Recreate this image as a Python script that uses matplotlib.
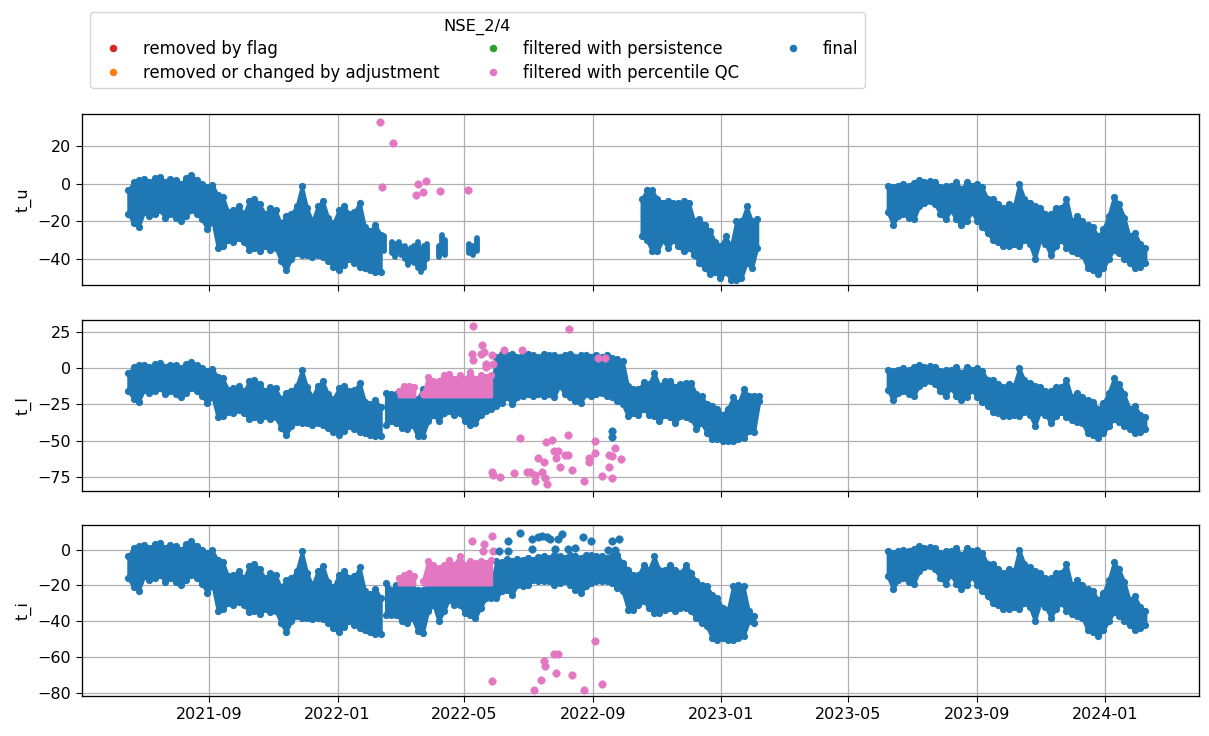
import matplotlib
matplotlib.use("Agg")
import matplotlib.pyplot as plt
import matplotlib.dates as mdates
from matplotlib.lines import Line2D
import pandas as pd
import numpy as np

# ---------------- data ----------------
STEP = "5D"
# common band 2021-06-16 .. 2022-02-11 (all three sensors)
A_start = "2021-06-16"
A_hi = [-3.5, 1, 2, 2.3, 1, 3, 3.5, 1, 2.5, 2, 0, 3, 4.5, 2, 0, -2, -0.5, -6, -7, -15,
        -14, -12, -16, -9, -8, -11, -16, -13, -14, -21, -17, -16, -12, -1, -13, -20, -12,
        -9, -18, -21, -14, -12, -16, -15, -10, -23, -25, -22, -27]
A_lo = [-16, -21, -23, -15, -17, -16, -14, -18, -16, -18, -20, -17, -14, -16, -19, -24, -20,
        -34, -33, -30, -31, -29, -31, -35, -34, -36, -33, -35, -34, -41, -46, -40, -37, -38,
        -38, -39, -38, -39, -41, -44, -46, -43, -40, -42, -44, -45, -46, -47, -47]

# common band 2023-06-08 .. 2024-02-11 (all three sensors)
C_start = "2023-06-08"
C_hi = [-1, -2, -1, 0, -1, 0.5, 2, 1, 1.5, 1, -2, -1, -1, 1, -3, 1, -1, 0, -2, -8,
        -8, -11, -13, -11, -12, 0, -8, -10, -12, -13, -16, -16, -13, -13, -8, -20, -17, -20,
        -22, -23, -28, -24, -17, -7, -11, -18, -28, -26, -32, -34]
C_lo = [-15, -22, -17, -16, -18, -19, -12, -10, -9, -11, -16, -19, -14, -19, -22, -20, -15,
        -20, -23, -26, -30, -31, -33, -33, -32, -33, -30, -32, -40, -30, -32, -38, -33, -30,
        -34, -36, -37, -38, -45, -46, -48, -45, -40, -35, -37, -40, -42, -45, -44, -42]

# t_u: winter 2022/23 band
tu_B_start = "2022-10-17"
tu_B_hi = [-8, -3.5, -3.5, -8, -10, -9, -10, -10, -9, -10, -20, -19, -22, -25, -31, -33, -28,
           -33, -20, -20, -12, -20, -19]
tu_B_lo = [-28, -30, -36, -36, -30, -34, -30, -33, -36, -34, -38, -42, -45, -48, -47, -50, -47,
           -51, -51, -50, -42, -45, -34]
# t_u: sparse data spring 2022
tu_stick_dates = ["2022-02-14", "2022-02-22", "2022-02-25", "2022-02-28", "2022-03-02",
                  "2022-03-06", "2022-03-09", "2022-03-12", "2022-03-15", "2022-03-18",
                  "2022-03-21", "2022-03-24", "2022-03-27", "2022-04-07", "2022-04-10",
                  "2022-04-13", "2022-05-06", "2022-05-10", "2022-05-14"]
tu_stick_hi = [-28, -31, -32, -31, -33, -33, -35, -34, -33, -31, -35, -33, -32, -33, -27, -30,
               -32, -33, -29]
tu_stick_lo = [-36, -37, -39, -36, -38, -40, -43, -41, -42, -45, -47, -45, -40, -39, -37, -38,
               -37, -38, -36]
tu_pct_dates = ["2022-02-10", "2022-02-23", "2022-02-12", "2022-03-18", "2022-03-17",
                "2022-03-23", "2022-03-26", "2022-04-08", "2022-05-05"]
tu_pct_vals = [33, 21.8, -2, 0, -6, -4.3, 1.6, -3.7, -3.2]

# t_l: band 2022-02-16 .. 2023-02-08
tl_M_start = "2022-02-16"
tl_M_hi = [-17, -18, -18, -19, -19, -20, -21, -14.4, -19, -19, -19, -19, -19, -19, -19, -19,
           -19, -19, -19, -19, -14,
           8, 10, 9, 10, 8, 9, 10, 9, 8, 10, 9, 9, 8, 9, 10, 8, 9, 9, 8, 9, 8, 9, 7, 6, 5,
           -12, -14.4, -14.4, -9.8, -11, -3, -12, -8.6, -8.6, -13, -11, -10, -10, -18, -19,
           -25, -26, -28, -32, -28, -20, -24, -14.4, -19, -19, -19]
tl_M_lo = [-39, -36.5, -37.7, -41, -42, -39, -47, -47, -36.5, -32, -36.5, -31, -29.5, -32, -31,
           -36.5, -39, -37.7, -32, -29.5, -28,
           -26, -24, -20, -25, -20, -19, -18, -19, -18, -19, -18, -20, -12, -18, -20, -22.6,
           -24, -18, -19, -18, -17, -19, -20, -22.6, -25,
           -33, -31, -32, -28, -32, -33, -36.5, -32, -34, -37.7, -33, -34, -35, -42, -37.7,
           -44.7, -49, -49, -50.5, -50.5, -50.5, -49, -48, -43.5, -44, -22.6]
pct_floor = -19.5
pct1_start = "2022-02-28"
pct2_start = "2022-03-23"
tl_pct1_hi = [-15.6, -12, -12, -12.8]
tl_pct2_hi = [-18, -6.3, -8.6, -8.6, -5, -4, -7.4, -5, -7.4, -2.8, -7.4, -5, -6.3, -5]
tl_pct_dates = ["2022-05-10", "2022-05-09", "2022-05-10", "2022-05-18", "2022-05-17",
                "2022-05-20", "2022-05-22", "2022-05-22", "2022-05-28", "2022-05-29",
                "2022-06-08", "2022-06-25", "2022-08-09", "2022-09-06", "2022-09-12",
                "2022-06-23", "2022-05-28", "2022-05-29", "2022-06-04", "2022-06-18",
                "2022-06-30", "2022-07-03", "2022-07-08", "2022-07-08", "2022-07-11",
                "2022-07-14", "2022-07-16", "2022-07-17", "2022-07-18", "2022-07-19",
                "2022-07-24", "2022-07-26", "2022-07-28", "2022-07-30", "2022-07-31",
                "2022-08-05", "2022-08-08", "2022-08-08", "2022-08-12", "2022-08-23",
                "2022-08-28", "2022-08-28", "2022-09-03", "2022-09-03", "2022-09-09",
                "2022-09-16", "2022-09-16", "2022-09-19", "2022-09-19", "2022-09-22",
                "2022-09-27"]
tl_pct_vals = [29.1, 10, 5.3, 15.8, 10, 11.2, 3, 0.7, 8.8, 3, 12.8, 12.3, 26.7, 7, 7,
               -48.1, -71.4, -73.7, -75.3, -72.6, -71.4, -71.4, -73.7, -77.7, -62.1, -71.4,
               -64.4, -76, -51.2, -80, -49.3, -57.4, -62.1, -57.4, -67.9, -59.8, -59.8, -45.8,
               -70.2, -77.7, -62.1, -64.4, -50.5, -58.6, -74.4, -59.8, -67.9, -60.9, -76,
               -55.1, -62.6]
tl_fin_dates = ["2022-09-19", "2022-09-19"]
tl_fin_vals = [-43.5, -47.7]

# t_i: band 2022-02-16 .. 2023-02-03
ti_M_start = "2022-02-16"
ti_M_hi = [-18.6, -22.3, -19.6, -19.6, -19.6, -20.5, -22.3, -22.3, -19.6, -19.6, -19.6, -19.6,
           -19.6, -19.6, -19.6, -19.6, -19.6, -19.6, -19.6, -19.6, -19.6,
           -6.5, -7, -5.5, -6.5, -5, -5.6, -4.7, -6, -4.2, -3.7, -4.5, -3.2, -3.7, -4.5, -3,
           -3.7, -4.5, -3.2, -2.8, -3.5, -3.7, -4.5, -3.7, -3.2, -7.4,
           -11.2, -14, -14, -8.4, -11.2, -3.7, -11.2, -11.2, -8.4, -11.2, -13, -8.4, -13,
           -17.7, -19.6, -20.5, -25.1, -27, -32.6, -33.5, -20.5, -19.6, -20.5, -34.5, -37.2]
ti_M_lo = [-36.3, -36.3, -36.3, -40, -41, -38.2, -45.6, -46.6, -34.5, -30.7, -40, -34.5, -27.9,
           -30.7, -30.7, -35.4, -36.3, -38.2, -32.6, -27, -27,
           -27, -23.3, -22.3, -25.1, -19.6, -20.5, -19.6, -16.8, -17.7, -17.7, -17.7, -19.6,
           -18.6, -17.7, -19.6, -22.3, -24.2, -20.5, -18.6, -17.7, -17.7, -17.7, -18.6, -21.4,
           -23.3,
           -33.5, -33.5, -30.7, -28.9, -32.6, -35.4, -35.4, -33.5, -32.6, -34.5, -32.6, -32.6,
           -34.5, -38.2, -41, -42.8, -49.3, -50.3, -49.3, -50.3, -50.3, -49.3, -48.4, -40, -41]
ti_pct1_hi = [-15.8, -14, -13, -15]
ti_pct2_hi = [-17.7, -6.5, -8.4, -10.2, -8.4, -5.6, -8.4, -3.7, -8.4, -6.5, -7.4, -6.5, -7.4, -5.6]
ti_pct_dates = ["2022-05-09", "2022-05-20", "2022-05-28", "2022-05-19", "2022-05-29",
                "2022-05-28", "2022-07-07", "2022-07-13", "2022-07-16", "2022-07-17",
                "2022-07-26", "2022-07-30", "2022-07-28", "2022-08-12", "2022-08-23",
                "2022-09-03", "2022-09-09"]
ti_pct_vals = [5.0, 3.2, 7.8, -0.9, -0.6, -73.6, -78.2, -73, -62, -65.2, -58.3, -58.3, -68.9,
               -69.8, -78.2, -50.8, -75]
ti_fin_dates = ["2022-06-03", "2022-06-12", "2022-06-12", "2022-06-23", "2022-07-05",
                "2022-07-05", "2022-07-11", "2022-07-14", "2022-07-19", "2022-07-22",
                "2022-07-27", "2022-07-30", "2022-08-02", "2022-08-08", "2022-08-15",
                "2022-08-22", "2022-08-30", "2022-09-15", "2022-09-19", "2022-09-22",
                "2022-09-26"]
ti_fin_vals = [-0.6, 5.0, -0.6, 9.3, 6.1, 0.4, 6.9, 7.4, 6.9, 6.1, 0.4, 6.1, 8.8, 0.4, 0.9,
               6.9, 5.0, 0, 4.7, 0, 6.1]

series_names = ["t_u", "t_l", "t_i"]
legend_labels = ["removed by flag", "removed or changed by adjustment",
                 "filtered with persistence", "filtered with percentile QC", "final"]
legend_title = "NSE_2/4"

# ---------------- styling ----------------
C_FLAG, C_ADJ, C_PERS, C_PCT, C_FIN = "#d62728", "#ff7f0e", "#2ca02c", "#e377c2", "#1f77b4"
plt.rcParams.update({
    "font.size": 11.5,
    "xtick.major.size": 4.2,
    "ytick.major.size": 4.2,
    "axes.linewidth": 0.95,
})

fig = plt.figure(figsize=(12.09, 7.36), dpi=100)
L, R = 82 / 1209, 1199 / 1209
H = 171 / 736
tops = [114, 320, 525]
axes = []
for i, t in enumerate(tops):
    b = 1 - (t + 171) / 736
    ax = fig.add_axes([L, b, R - L, H], sharex=axes[0] if axes else None)
    axes.append(ax)


def band(ax, start, lo, hi, color, z=2):
    d = pd.date_range(start, periods=len(hi), freq=STEP)
    lo_arr = np.broadcast_to(np.asarray(lo, dtype=float), (len(hi),))
    ax.fill_between(d, lo_arr, hi, color=color, edgecolor=color, lw=2.2, zorder=z,
                    joinstyle="round")
    ax.plot(d, hi, ls="none", marker="o", ms=5.2, mew=0, color=color, zorder=z)
    if np.ndim(lo) > 0:
        ax.plot(d, lo_arr, ls="none", marker="o", ms=5.2, mew=0, color=color, zorder=z)


def points(ax, dates, vals, color, z=4):
    ax.plot(pd.to_datetime(dates), vals, ls="none", marker="o", ms=5.4, mew=0.4,
            mfc=color, mec=color, zorder=z)


# t_u
ax = axes[0]
band(ax, A_start, A_lo, A_hi, C_FIN)
band(ax, tu_B_start, tu_B_lo, tu_B_hi, C_FIN)
band(ax, C_start, C_lo, C_hi, C_FIN)
ax.vlines(pd.to_datetime(tu_stick_dates), tu_stick_lo, tu_stick_hi, color=C_FIN, lw=4.2,
          capstyle="round", zorder=2)
points(ax, tu_pct_dates, tu_pct_vals, C_PCT)

# t_l
ax = axes[1]
band(ax, A_start, A_lo, A_hi, C_FIN)
band(ax, tl_M_start, tl_M_lo, tl_M_hi, C_FIN)
band(ax, C_start, C_lo, C_hi, C_FIN)
band(ax, pct1_start, pct_floor, tl_pct1_hi, C_PCT, z=2.5)
band(ax, pct2_start, pct_floor, tl_pct2_hi, C_PCT, z=2.5)
points(ax, tl_pct_dates, tl_pct_vals, C_PCT)
points(ax, tl_fin_dates, tl_fin_vals, C_FIN, z=5)

# t_i
ax = axes[2]
band(ax, A_start, A_lo, A_hi, C_FIN)
band(ax, ti_M_start, ti_M_lo, ti_M_hi, C_FIN)
band(ax, C_start, C_lo, C_hi, C_FIN)
band(ax, pct1_start, pct_floor, ti_pct1_hi, C_PCT, z=2.5)
band(ax, pct2_start, pct_floor, ti_pct2_hi, C_PCT, z=2.5)
points(ax, ti_pct_dates, ti_pct_vals, C_PCT)
points(ax, ti_fin_dates, ti_fin_vals, C_FIN, z=5)

ylims = [(-53.8, 37.0), (-84.7, 33.2), (-81.7, 13.7)]
yticks = [[-40, -20, 0, 20], [-75, -50, -25, 0, 25], [-80, -60, -40, -20, 0]]
for ax, name, yl, yt in zip(axes, series_names, ylims, yticks):
    ax.set_ylim(*yl)
    ax.set_yticks(yt)
    ax.set_ylabel(name)
    ax.grid(True, color="#b0b0b0", lw=0.9)
    ax.set_axisbelow(True)

axes[0].set_xlim(pd.Timestamp("2021-05-03"), pd.Timestamp("2024-03-30"))
axes[0].xaxis.set_major_locator(mdates.MonthLocator(bymonth=[1, 5, 9]))
axes[0].xaxis.set_major_formatter(mdates.DateFormatter("%Y-%m"))
for ax in axes[:-1]:
    ax.tick_params(labelbottom=False)

handles = [Line2D([], [], ls="none", marker="o", ms=4.4, color=c)
           for c in [C_FLAG, C_ADJ, C_PERS, C_PCT, C_FIN]]
fig.legend(handles, legend_labels, title=legend_title, ncol=3, loc="upper left",
           bbox_to_anchor=(90 / 1209, 1 - 12 / 736), borderaxespad=0, fontsize=11.9,
           title_fontsize=11.8, labelspacing=0.33, columnspacing=2.25)

fig.savefig("out.png", dpi=100)
